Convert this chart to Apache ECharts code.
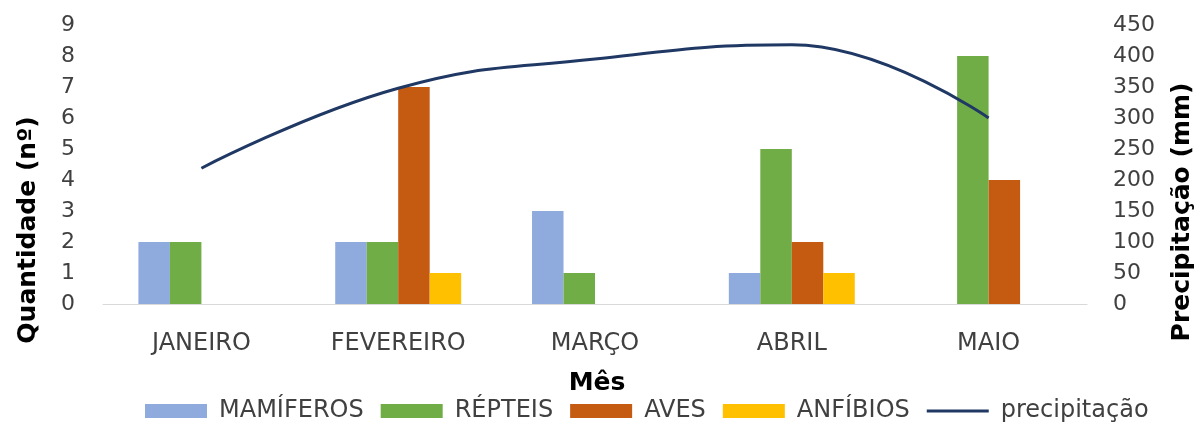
<!DOCTYPE html>
<html>
<head>
<meta charset="utf-8">
<script src="https://cdn.jsdelivr.net/npm/echarts@6/dist/echarts.min.js"></script>
<style>
html,body{margin:0;padding:0;background:#fff;}
#c{width:1203px;height:430px;}
</style>
</head>
<body>
<div id="c"></div>
<script>
const categories = ['JANEIRO', 'FEVEREIRO', 'MARÇO', 'ABRIL', 'MAIO'];
const mamiferos = [2, 2, 3, 1, 0];
const repteis = [2, 2, 1, 5, 8];
const aves = [0, 7, 0, 2, 4];
const anfibios = [0, 1, 0, 1, 0];
const precipitacao = [219, 348, 395, 418, 300];
const leftTicks = { min: 0, max: 9, interval: 1 };
const rightTicks = { min: 0, max: 450, interval: 50 };

const FONT = 'DejaVu Sans';
const TXT = '#404040';
const chart = echarts.init(document.getElementById('c'));
const barSeries = (name, data, color) => ({
  name, type: 'bar', data, yAxisIndex: 0,
  barGap: '0%', barCategoryGap: '36%',
  itemStyle: { color }
});
const lineIcon = 'path://M0,0 L0.01,0 L0.01,0.01 Z M0,5.5 L62,5.5 L62,8.5 L0,8.5 Z M61.99,13.99 L62,13.99 L62,14 Z';
chart.setOption({
  animation: false,
  backgroundColor: '#ffffff',
  grid: { left: 103, right: 116, top: 25, bottom: 126, containLabel: false },
  legend: {
    bottom: 2, left: 140,
    itemWidth: 62, itemHeight: 14, itemGap: 17,
    textStyle: { fontFamily: FONT, fontSize: 24, color: TXT, padding: [0, 0, 0, 7] },
    data: [
      { name: 'MAMÍFEROS', icon: 'rect' },
      { name: 'RÉPTEIS', icon: 'rect' },
      { name: 'AVES', icon: 'rect' },
      { name: 'ANFÍBIOS', icon: 'rect' },
      { name: 'precipitação', icon: lineIcon }
    ]
  },
  xAxis: {
    type: 'category', data: categories,
    axisLine: { lineStyle: { color: '#D9D9D9', width: 1 } },
    axisTick: { show: false },
    axisLabel: { fontFamily: FONT, fontSize: 24, color: TXT, margin: 28 }
  },
  yAxis: [
    {
      type: 'value', min: leftTicks.min, max: leftTicks.max, interval: leftTicks.interval,
      splitLine: { show: false }, axisLine: { show: false }, axisTick: { show: false },
      axisLabel: { fontFamily: FONT, fontSize: 22, color: TXT, margin: 28 }
    },
    {
      type: 'value', min: rightTicks.min, max: rightTicks.max, interval: rightTicks.interval,
      splitLine: { show: false }, axisLine: { show: false }, axisTick: { show: false },
      axisLabel: { fontFamily: FONT, fontSize: 22, color: TXT, margin: 26 }
    }
  ],
  graphic: [
    { type: 'text', x: 597, y: 383, style: { text: 'Mês', font: 'bold 25px ' + FONT, fill: '#000', textAlign: 'center', textVerticalAlign: 'middle' } },
    { type: 'text', x: 28, y: 230, rotation: Math.PI / 2, style: { text: 'Quantidade (nº)', font: 'bold 25px ' + FONT, fill: '#000', textAlign: 'center', textVerticalAlign: 'middle' } },
    { type: 'text', x: 1182, y: 212, rotation: Math.PI / 2, style: { text: 'Precipitação (mm)', font: 'bold 25px ' + FONT, fill: '#000', textAlign: 'center', textVerticalAlign: 'middle' } }
  ],
  series: [
    barSeries('MAMÍFEROS', mamiferos, '#8FAADC'),
    barSeries('RÉPTEIS', repteis, '#70AD47'),
    barSeries('AVES', aves, '#C55A11'),
    barSeries('ANFÍBIOS', anfibios, '#FFC000'),
    {
      name: 'precipitação', type: 'line', yAxisIndex: 1, data: precipitacao,
      smooth: 0.45, symbol: 'none', showSymbol: false,
      lineStyle: { color: '#203864', width: 3 },
      itemStyle: { color: '#203864' }
    }
  ]
});
</script>
</body>
</html>
